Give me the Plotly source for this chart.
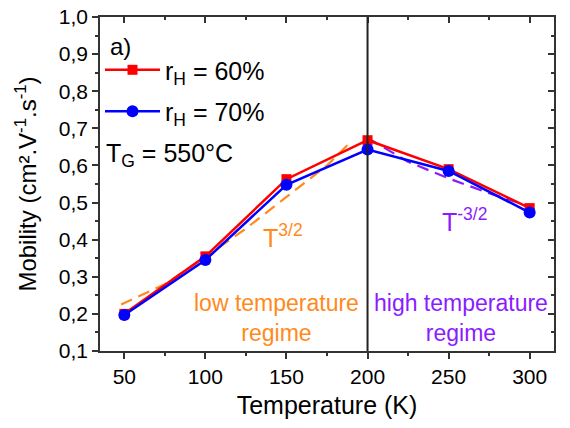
import plotly.graph_objects as go

temperature = [50, 100, 150, 200, 250, 300]
mobility_60 = [0.200, 0.355, 0.563, 0.668, 0.590, 0.485]
mobility_70 = [0.197, 0.345, 0.548, 0.643, 0.585, 0.473]

low_fit_T = [48, 75, 100, 125, 150, 175, 190]
low_fit_mu = [0.225, 0.280, 0.353, 0.430, 0.515, 0.600, 0.665]
high_fit_T = [200, 225, 250, 275, 300]
high_fit_mu = [0.674, 0.610, 0.565, 0.525, 0.490]

y_ticks = [0.1, 0.2, 0.3, 0.4, 0.5, 0.6, 0.7, 0.8, 0.9, 1.0]
x_ticks = [50, 100, 150, 200, 250, 300]

FONT = "Liberation Sans, Arial, sans-serif"
RED = "#FF0000"
BLUE = "#0000FF"
ORANGE = "#FF8A1C"
PURPLE = "#8A1CFF"

fig = go.Figure()

fig.add_trace(go.Scatter(x=low_fit_T, y=low_fit_mu, mode="lines",
                         line=dict(color=ORANGE, width=2.2, dash="12px,7px"),
                         showlegend=False, hoverinfo="skip"))
fig.add_trace(go.Scatter(x=high_fit_T, y=high_fit_mu, mode="lines",
                         line=dict(color=PURPLE, width=2.2, dash="12px,7px"),
                         showlegend=False, hoverinfo="skip"))

fig.add_trace(go.Scatter(x=temperature, y=mobility_60, mode="lines+markers",
                         name="r<sub>H</sub> = 60%", legendgroup="a",
                         line=dict(color=RED, width=2.5),
                         marker=dict(symbol="square", size=10, color=RED)))
fig.add_trace(go.Scatter(x=temperature, y=mobility_70, mode="lines+markers",
                         name="r<sub>H</sub> = 70%", legendgroup="b",
                         line=dict(color=BLUE, width=2.5),
                         marker=dict(symbol="circle", size=12, color=BLUE)))

# invisible trace for mirrored (inside-tick) axes
fig.add_trace(go.Scatter(x=[x_ticks[0]], y=[y_ticks[0]], xaxis="x2", yaxis="y2",
                         mode="markers", marker=dict(opacity=0), showlegend=False,
                         hoverinfo="skip"))

fig.add_vline(x=200, line=dict(color="#222222", width=2))

axis_common = dict(showgrid=False, zeroline=False, showline=True, automargin=False,
                   linecolor="#333333", linewidth=1.5, tickcolor="#333333")

fig.update_layout(
    width=570, height=428,
    margin=dict(l=100, r=16, t=17, b=77, autoexpand=False),
    paper_bgcolor="white", plot_bgcolor="white",
    separators=",.",
    font=dict(family=FONT, color="black"),
    xaxis=dict(range=[35, 315], tickvals=x_ticks, ticks="outside", ticklen=6,
               tickwidth=1.5,
               minor=dict(dtick=25, tick0=25, ticks="outside", ticklen=3,
                          tickcolor="#333333", tickwidth=1.5),
               tickfont=dict(size=21, family=FONT),
               title=dict(text="Temperature (K)", font=dict(size=25, family=FONT),
                          standoff=10),
               **axis_common),
    yaxis=dict(range=[0.1, 1.0], tickvals=y_ticks, tickformat=".1f",
               ticks="outside", ticklen=6, tickwidth=1.5, ticklabeloverflow="allow",
               minor=dict(dtick=0.05, tick0=0.05, ticks="outside", ticklen=3,
                          tickcolor="#333333", tickwidth=1.5),
               tickfont=dict(size=21, family=FONT),
               title=dict(text="Mobility (cm².V<sup>-1</sup>.s<sup>-1</sup>)",
                          font=dict(size=24, family=FONT), standoff=15),
               **axis_common),
    xaxis2=dict(overlaying="x", side="top", matches="x", range=[35, 315],
                tickvals=x_ticks, ticks="inside", ticklen=6, tickwidth=1.5,
                minor=dict(dtick=25, tick0=25, ticks="inside", ticklen=3,
                           tickcolor="#333333", tickwidth=1.5),
                showticklabels=False, **axis_common),
    yaxis2=dict(overlaying="y", side="right", matches="y", range=[0.1, 1.0],
                tickvals=y_ticks, ticks="inside", ticklen=6, tickwidth=1.5,
                minor=dict(dtick=0.05, tick0=0.05, ticks="inside", ticklen=3,
                           tickcolor="#333333", tickwidth=1.5),
                showticklabels=False, **axis_common),
    legend=dict(x=0.0, y=0.91, xanchor="left", yanchor="top",
                bgcolor="rgba(0,0,0,0)", font=dict(size=25, family=FONT),
                traceorder="grouped", tracegroupgap=6, itemwidth=55),
    showlegend=True,
)

ann = [
    dict(x=40, y=0.92, text="a)", font=dict(size=24, color="black"),
         xanchor="left", yanchor="middle"),
    dict(x=37.5, y=0.628, text="T<sub>G</sub> = 550°C", font=dict(size=25, color="black"),
         xanchor="left", yanchor="middle"),
    dict(x=134.5, y=0.41, text="T<sup>3/2</sup>", font=dict(size=25, color=ORANGE),
         xanchor="left", yanchor="middle"),
    dict(x=244.5, y=0.452, text="T<sup>-3/2</sup>", font=dict(size=25, color=PURPLE),
         xanchor="left", yanchor="middle"),
    dict(x=144, y=0.19, text="low temperature<br>regime", font=dict(size=23, color=ORANGE),
         xanchor="center", yanchor="middle", align="center"),
    dict(x=257.5, y=0.19, text="high temperature<br>regime", font=dict(size=23, color=PURPLE),
         xanchor="center", yanchor="middle", align="center"),
]
for a in ann:
    a.update(xref="x", yref="y", showarrow=False)
    a["font"]["family"] = FONT
    fig.add_annotation(**a)

# remove the default 8px page margin so the figure fills the window exactly
fig.write_html("out.html", config={"displayModeBar": False},
               post_script="document.body.style.margin='0';")
